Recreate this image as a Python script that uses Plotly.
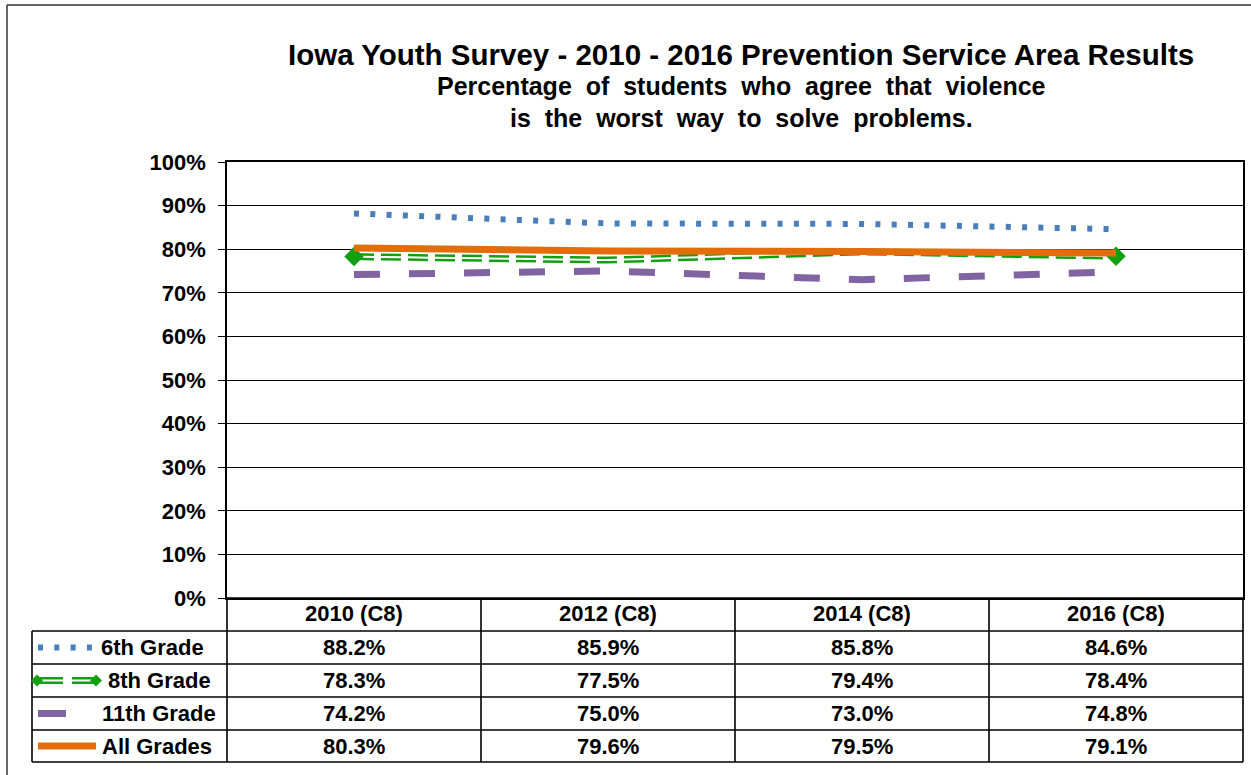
import plotly.graph_objects as go

W, H = 1251, 775

categories = ["2010 (C8)", "2012 (C8)", "2014 (C8)", "2016 (C8)"]
series_names = ["6th Grade", "8th Grade", "11th Grade", "All Grades"]
grade6 = [88.2, 85.9, 85.8, 84.6]
grade8 = [78.3, 77.5, 79.4, 78.4]
grade11 = [74.2, 75.0, 73.0, 74.8]
all_grades = [80.3, 79.6, 79.5, 79.1]
y_ticks = [0, 10, 20, 30, 40, 50, 60, 70, 80, 90, 100]
y_tick_labels = [f"{v}%" for v in y_ticks]

BLUE = "#4A7EBB"
GREEN = "#12A012"
PURPLE = "#8064A2"
ORANGE = "#E46C0A"
FONT = "Liberation Sans, Arial, sans-serif"

DOT = "5px,11.3px"
GDASH = "20px,7px"
PDASH = "26px,29px"


def px(x):
    return x / W


def py(y):
    return 1 - y / H


fig = go.Figure()

fig.add_trace(go.Scatter(x=categories, y=grade11, mode="lines", name=series_names[2],
                         line=dict(color=PURPLE, width=7, dash=PDASH), showlegend=False))
fig.add_trace(go.Scatter(x=categories, y=grade8, mode="lines", name=series_names[1],
                         line=dict(color=GREEN, width=7, dash=GDASH), showlegend=False))
fig.add_trace(go.Scatter(x=categories, y=grade8, mode="lines", hoverinfo="skip",
                         line=dict(color="white", width=2, dash=GDASH), showlegend=False))
fig.add_trace(go.Scatter(x=categories, y=grade8, mode="markers", hoverinfo="skip",
                         marker=dict(symbol="diamond", size=[15, 0, 0, 15], color=GREEN,
                                     opacity=1, line=dict(width=0)),
                         showlegend=False))
fig.add_trace(go.Scatter(x=categories, y=grade6, mode="lines", name=series_names[0],
                         line=dict(color=BLUE, width=6, dash=DOT), showlegend=False))
fig.add_trace(go.Scatter(x=categories, y=all_grades, mode="lines", name=series_names[3],
                         line=dict(color=ORANGE, width=7), showlegend=False))

x0, x1 = 227, 1243
y_top, y_bot = 162, 598
row_lines = [598, 631, 664, 697, 730, 762]
LW = 1.6

shapes = []
shapes.append(dict(type="line", xref="paper", yref="paper", x0=px(7), x1=px(7), y0=0, y1=py(5),
                   line=dict(color="#333333", width=1.5)))
shapes.append(dict(type="line", xref="paper", yref="paper", x0=px(7), x1=1, y0=py(5), y1=py(5),
                   line=dict(color="#333333", width=1.5)))
for i, yy in enumerate(row_lines):
    left = x0 if i == 0 else 32
    shapes.append(dict(type="line", xref="paper", yref="paper", x0=px(left), x1=px(x1),
                       y0=py(yy), y1=py(yy), line=dict(color="black", width=LW)))
shapes.append(dict(type="line", xref="paper", yref="paper", x0=px(32), x1=px(32),
                   y0=py(631), y1=py(762), line=dict(color="black", width=LW)))
for xv in [x0, x1]:
    shapes.append(dict(type="line", xref="paper", yref="paper", x0=px(xv), x1=px(xv),
                       y0=py(y_bot), y1=py(762), line=dict(color="black", width=LW)))
for k in range(len(categories) - 1):
    shapes.append(dict(type="line", xref="x", yref="paper", x0=k + 0.5, x1=k + 0.5,
                       y0=py(y_bot), y1=py(762), line=dict(color="black", width=LW)))

row_centers = [(row_lines[i] + row_lines[i + 1]) / 2 for i in range(1, 5)]
cy = row_centers[0]
shapes.append(dict(type="line", xref="paper", yref="paper", x0=px(38), x1=px(92),
                   y0=py(cy), y1=py(cy), line=dict(color=BLUE, width=6, dash=DOT)))
cy = row_centers[1]
for a, b in [(36, 63), (72, 98)]:
    shapes.append(dict(type="line", xref="paper", yref="paper", x0=px(a), x1=px(b),
                       y0=py(cy), y1=py(cy), line=dict(color=GREEN, width=7)))
    shapes.append(dict(type="line", xref="paper", yref="paper", x0=px(a), x1=px(b),
                       y0=py(cy), y1=py(cy), line=dict(color="white", width=2)))
for cx in [37, 96]:
    shapes.append(dict(type="path", xref="paper", yref="paper",
                       path=f"M {px(cx-6)} {py(cy)} L {px(cx)} {py(cy-6)} L {px(cx+6)} {py(cy)} L {px(cx)} {py(cy+6)} Z",
                       fillcolor=GREEN, line=dict(color=GREEN, width=0)))
cy = row_centers[2]
shapes.append(dict(type="line", xref="paper", yref="paper", x0=px(38), x1=px(66),
                   y0=py(cy), y1=py(cy), line=dict(color=PURPLE, width=7)))
cy = row_centers[3]
shapes.append(dict(type="line", xref="paper", yref="paper", x0=px(38), x1=px(96),
                   y0=py(cy), y1=py(cy), line=dict(color=ORANGE, width=7)))

annotations = []
title_lines = [
    ("Iowa Youth Survey - 2010 - 2016 Prevention Service Area Results", 55, 741, 29.5),
    ("Percentage  of  students  who  agree  that  violence", 86, 741, 25),
    ("is  the  worst  way  to  solve  problems.", 118, 741, 25),
]
for txt, yy, xx, sz in title_lines:
    annotations.append(dict(text=txt, xref="paper", yref="paper", x=px(xx), y=py(yy),
                            xanchor="center", yanchor="middle", showarrow=False,
                            font=dict(family=FONT, size=sz, color="black", weight="bold")))

# header row (category labels)
for c in categories:
    annotations.append(dict(text=c, xref="x", yref="paper", x=c, y=py((row_lines[0] + row_lines[1]) / 2 - 1),
                            xanchor="center", yanchor="middle", showarrow=False,
                            font=dict(family=FONT, size=22, color="black", weight="bold")))

name_left = [99, 106, 100, 100]
table_series = [grade6, grade8, grade11, all_grades]
for r, (name, vals) in enumerate(zip(series_names, table_series)):
    cy = row_centers[r]
    annotations.append(dict(text=name, xref="paper", yref="paper", x=px(name_left[r]), y=py(cy),
                            xanchor="left", yanchor="middle", showarrow=False,
                            font=dict(family=FONT, size=22, color="black", weight="bold")))
    for c, v in zip(categories, vals):
        annotations.append(dict(text=f"{v:.1f}%", xref="x", yref="paper", x=c, y=py(cy),
                                xanchor="center", yanchor="middle", showarrow=False,
                                font=dict(family=FONT, size=22, color="black", weight="bold")))

fig.update_layout(
    width=W, height=H,
    margin=dict(l=0, r=0, t=0, b=0, pad=0),
    paper_bgcolor="white", plot_bgcolor="white",
    shapes=shapes, annotations=annotations,
    xaxis=dict(domain=[px(x0), px(x1)], type="category", range=[-0.5, 3.5],
               showgrid=False, showline=True, linecolor="black", linewidth=1.6, mirror=True,
               ticks="", showticklabels=False, automargin=False, fixedrange=True),
    yaxis=dict(domain=[py(y_bot), py(y_top)], range=[0, 100],
               tickvals=y_ticks, ticktext=y_tick_labels,
               showgrid=True, gridcolor="black", gridwidth=1,
               showline=True, linecolor="black", linewidth=1.6, mirror=True,
               ticks="outside", ticklen=7, tickcolor="black", ticklabelstandoff=8,
               automargin=False,
               tickfont=dict(family=FONT, size=22, color="black", weight="bold"),
               zeroline=False, fixedrange=True),
)

fig.write_html("out.html", config={"displayModeBar": False},
               post_script="document.body.style.margin='0';document.body.style.overflow='hidden';")
